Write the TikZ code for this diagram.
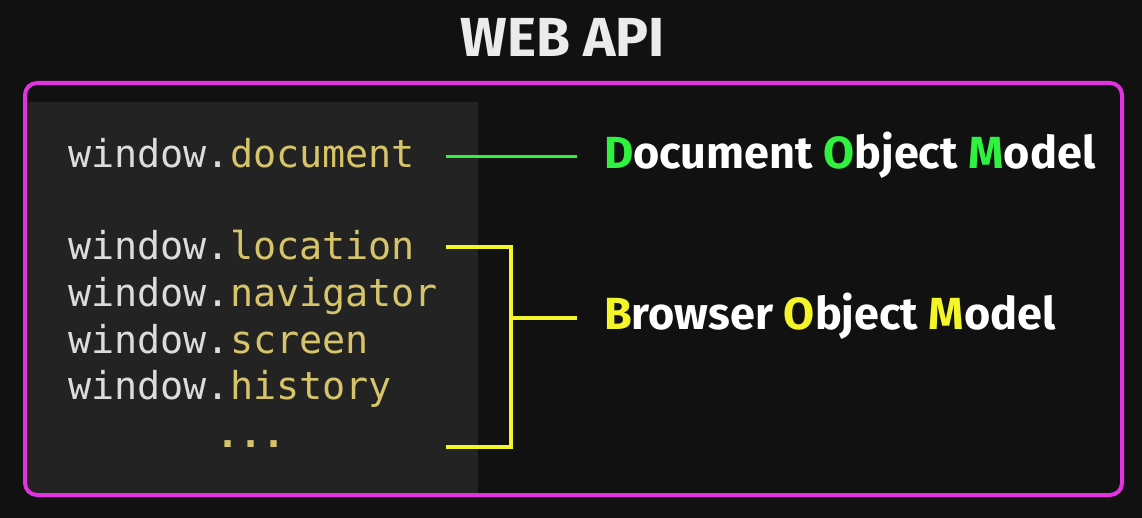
\documentclass[tikz,border=0pt]{standalone}
\usepackage{fontspec}
\setmainfont{Fira Sans}
\setmonofont{DejaVu Sans Mono}
\usetikzlibrary{positioning, calc}
\definecolor{PageBg}{HTML}{111111}
\definecolor{PanelBg}{HTML}{232323}
\definecolor{FrameMagenta}{HTML}{E232E2}
\definecolor{CodeWhite}{HTML}{DCDCDC}
\definecolor{CodeGold}{HTML}{D6C46A}
\definecolor{DomGreen}{HTML}{30F040}
\definecolor{BomYellow}{HTML}{F4F42A}

\begin{document}
\begin{tikzpicture}[x=1pt, y=-1pt,
    codeline/.style={anchor=base west, inner sep=0pt, text=CodeWhite,
      font=\fontsize{38.4}{40}\selectfont\ttfamily},
    modellabel/.style={anchor=base west, inner xsep=27pt, inner ysep=0pt, text=white,
      font=\fontsize{45}{48}\selectfont\bfseries},
    link/.style={line width=3.8pt}]
  % page and frame
  \useasboundingbox[fill=PageBg] (0,0) rectangle (1142,518);
  \begin{scope}
    \clip[rounded corners=12pt] (25,83) rectangle (1122,495);
    \fill[PanelBg] (25,102) rectangle (478,495);
  \end{scope}
  \draw[FrameMagenta, line width=4pt, rounded corners=12pt] (25,83) rectangle (1122,495);

  % title
  \node[text=white!92!black, font=\fontsize{55}{58}\selectfont\bfseries, anchor=base] (title) at (563,57) {WEB API};

  % code lines
  \node[codeline] (doc) at (68,168) {window.\textcolor{CodeGold}{document}};
  \node[codeline] (loc) at (68,260) {window.\textcolor{CodeGold}{location}};
  \node[codeline] (nav) at (68,306.5) {window.\textcolor{CodeGold}{navigator}};
  \node[codeline] (scr) at (68,353) {window.\textcolor{CodeGold}{screen}};
  \node[codeline] (his) at (68,399.5) {window.\textcolor{CodeGold}{history}};
  \node[codeline, anchor=base, text=CodeGold, font=\fontsize{38.4}{40}\selectfont\ttfamily\bfseries] (more) at (251,447) {...};

  % model labels
  \node[modellabel] (dom) at (577,169) {\textcolor{DomGreen}{D}ocument \textcolor{DomGreen}{O}bject \textcolor{DomGreen}{M}odel};
  \node[modellabel] (bom) at (577,329) {\textcolor{BomYellow}{B}rowser \textcolor{BomYellow}{O}bject \textcolor{BomYellow}{M}odel};

  % connectors
  \coordinate (docend) at (446,156.5);
  \coordinate (locend) at (446,247);
  \coordinate (moreend) at (446,447);
  \coordinate (bomjoin) at (511,318);
  \draw[link, DomGreen] (docend) -- (docend -| dom.west);
  \draw[link, BomYellow] (locend) -| (bomjoin) |- (moreend);
  \draw[link, BomYellow] (bomjoin) -- (bomjoin -| bom.west);
\end{tikzpicture}
\end{document}
